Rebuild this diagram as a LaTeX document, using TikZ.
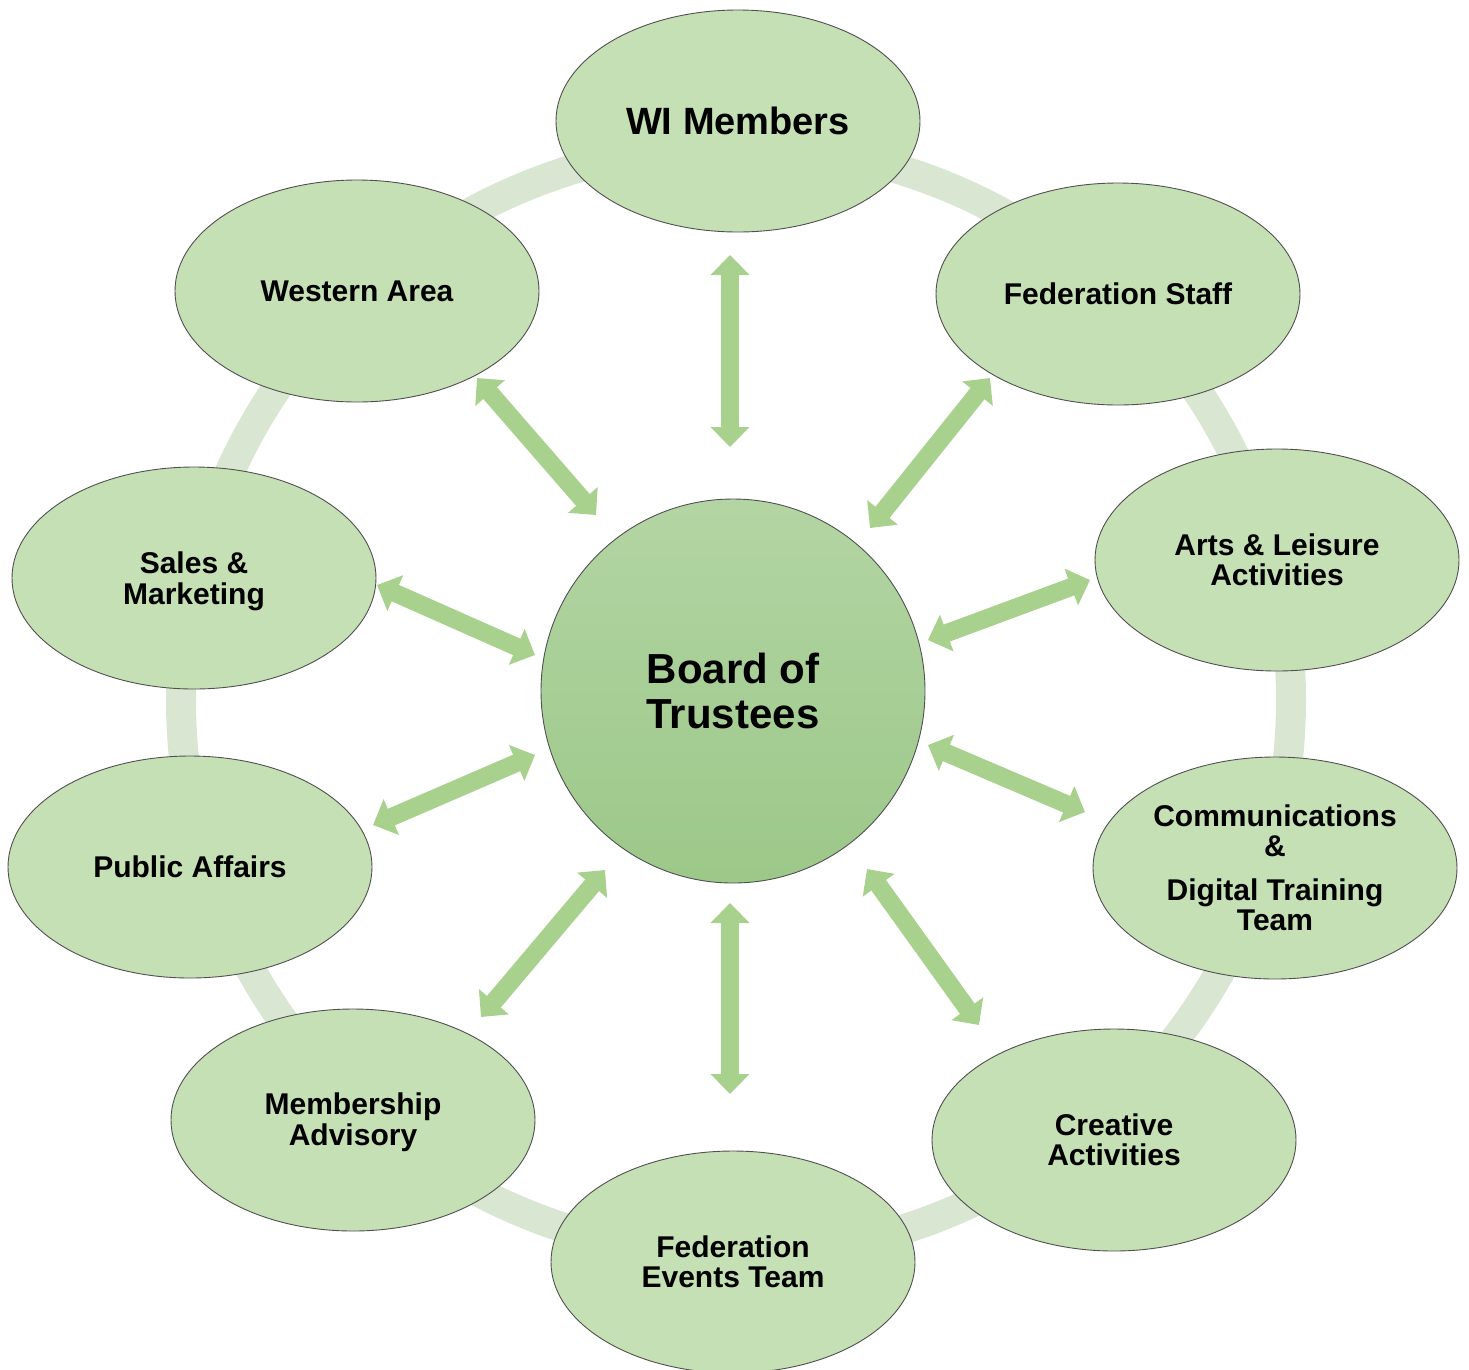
\documentclass[tikz,border=0pt]{standalone}
\usepackage{fontspec}
\setmainfont{Liberation Sans}
\usetikzlibrary{shapes.geometric,arrows.meta,calc}
\definecolor{ringc}{HTML}{D9E7D2}
\definecolor{ellfill}{HTML}{C5E0B4}
\definecolor{arrc}{HTML}{A9D18E}
\definecolor{bordc}{HTML}{505050}
\definecolor{boardtop}{HTML}{B3D5A3}
\definecolor{boardbot}{HTML}{9CC889}
\begin{document}
\begin{tikzpicture}[x=1pt,y=-1pt,
  unit/.style={ellipse, draw=bordc, line width=0.9pt, fill=ellfill,
    minimum width=364pt, minimum height=222pt, inner sep=0pt, align=center,
    font=\bfseries\fontsize{30}{30.5}\selectfont},
  arr/.style={color=arrc, line width=18pt,
    {Triangle[width=38pt,length=20pt]}-{Triangle[width=38pt,length=20pt]}}]
\useasboundingbox (0,0) rectangle (1469,1369);
% ring
\draw[ringc, line width=30pt] (736,700) circle[radius=555];
% nodes
\node[unit, font=\bfseries\fontsize{38}{40}\selectfont] (wi) at (738,121) {WI Members};
\node[unit] (fs) at (1118,294) {Federation Staff};
\node[unit] (arts) at (1277,560) {Arts \& Leisure\\Activities};
\node[unit] (comm) at (1275,868) {Communications\\\&\\[13pt]Digital Training\\Team};
\node[unit] (crea) at (1114,1140) {Creative\\Activities};
\node[unit] (evt) at (733,1262) {Federation\\Events Team};
\node[unit] (memb) at (353,1120) {\rule{0pt}{26pt}Membership\\Advisory};
\node[unit] (pub) at (190,867) {Public Affairs};
\node[unit] (sales) at (194,578) {\rule{0pt}{28pt}Sales \&\\Marketing};
\node[unit] (west) at (357,291) {Western Area};
\node[circle, minimum size=384pt, inner sep=0pt, top color=boardtop, bottom color=boardbot,
  draw=bordc, line width=0.9pt, align=center,
  font=\bfseries\fontsize{42}{45}\selectfont] (board) at (733,691) {Board of\\Trustees};
% arrows
\draw[arr] ($(wi)+(-8,134)$) -- ($(board)+(-3,-244)$);
\draw[arr] ($(fs)+(-128,84)$) -- ($(board)+(137,-163)$);
\draw[arr] ($(arts)+(-187,20)$) -- ($(board)+(195,-51)$);
\draw[arr] ($(comm)+(-190,-56)$) -- ($(board)+(195,54)$);
\draw[arr] ($(crea)+(-135,-115)$) -- ($(board)+(134,178)$);
\draw[arr] ($(evt)+(-3,-168)$) -- ($(board)+(-3,212)$);
\draw[arr] ($(memb)+(128,-103)$) -- ($(board)+(-128,179)$);
\draw[arr] ($(pub)+(183,-42)$) -- ($(board)+(-198,64)$);
\draw[arr] ($(sales)+(183,7)$) -- ($(board)+(-198,-36)$);
\draw[arr] ($(west)+(120,87)$) -- ($(board)+(-137,-176)$);
\end{tikzpicture}
\end{document}
